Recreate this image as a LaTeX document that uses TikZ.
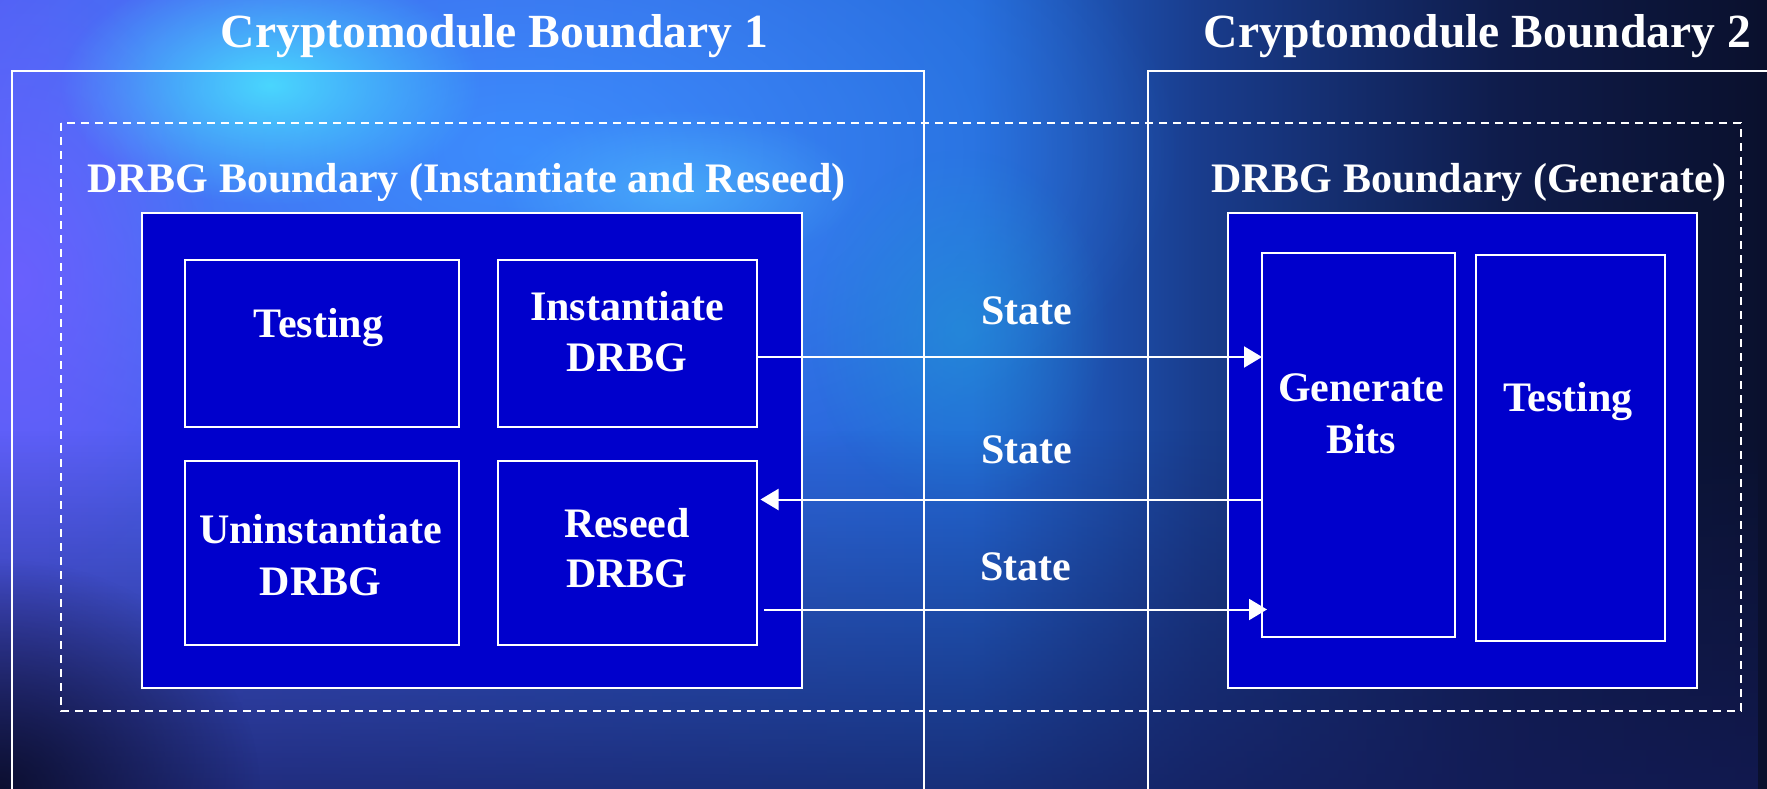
\documentclass[tikz,border=0pt]{standalone}
\usepackage{fontspec}
\setmainfont{Liberation Serif}
\usetikzlibrary{arrows.meta,fadings}

\definecolor{boxblue}{RGB}{0,0,204}
\definecolor{bg0}{RGB}{85,95,245}
\definecolor{bg1}{RGB}{35,105,215}
\definecolor{bg2}{RGB}{25,60,140}
\definecolor{bg3}{RGB}{15,28,75}
\definecolor{bg4}{RGB}{10,16,45}
\definecolor{glowBlue}{RGB}{60,145,255}
\definecolor{glowCyan}{RGB}{75,230,255}
\definecolor{glowCyanB}{RGB}{85,205,255}
\definecolor{glowTeal}{RGB}{35,150,215}
\definecolor{glowPurple}{RGB}{110,95,255}
\definecolor{bottomDark}{RGB}{20,28,90}
\definecolor{cornerDark}{RGB}{8,10,35}

\pgfdeclarehorizontalshading{bgh}{100bp}{color(0bp)=(bg0); color(25bp)=(bg0); color(52.5bp)=(bg1); color(59bp)=(bg2); color(67.5bp)=(bg3); color(75bp)=(bg4); color(100bp)=(bg4)}
\tikzfading[name=glow, inner color=transparent!0, outer color=transparent!100]
\tikzfading[name=fadedown, top color=transparent!100, bottom color=transparent!0]

\begin{document}
\begin{tikzpicture}[x=1pt,y=-1pt,
  boundary/.style={draw=white, line width=2pt},
  dashbox/.style={draw=white, line width=2pt, dash pattern=on 8pt off 6pt},
  bluebox/.style={draw=white, line width=2pt, fill=boxblue, inner sep=0pt, outer sep=0pt, anchor=north west},
  innerbox/.style={draw=white, line width=2.2pt, inner sep=0pt, outer sep=0pt, anchor=north west},
  txt/.style={text=white, font=\fontsize{42}{52}\selectfont\bfseries, inner sep=0pt, anchor=base},
  titletxt/.style={text=white, font=\fontsize{47.6}{57}\selectfont\bfseries, inner sep=0pt, anchor=base},
  arr/.style={draw=white, line width=2pt, -{Triangle[length=18pt,width=21pt]}}
]
\useasboundingbox (0,0) rectangle (1767,789);
% background
\shade[shading=bgh] (0,0) rectangle (1767,789);
\fill[glowBlue, path fading=glow, fill opacity=0.9] (520,150) ellipse [x radius=660, y radius=350];
\fill[glowPurple, path fading=glow, fill opacity=0.85] (20,280) ellipse [x radius=200, y radius=300];
\fill[glowTeal, path fading=glow, fill opacity=0.6] (960,330) ellipse [x radius=150, y radius=180];
\fill[glowCyanB, path fading=glow, fill opacity=0.5] (680,190) ellipse [x radius=180, y radius=80];
\fill[glowCyan, path fading=glow, fill opacity=0.85] (270,85) ellipse [x radius=210, y radius=120];
\fill[bottomDark, path fading=fadedown, fill opacity=0.75] (0,430) rectangle (1767,789);
\fill[cornerDark, path fading=glow, fill opacity=0.85] (0,789) ellipse [x radius=260, y radius=230];

% cryptomodule boundaries
\draw[boundary] (12,800) -- (12,71) -- (924,71) -- (924,800);
\draw[boundary] (1148,800) -- (1148,71) -- (1780,71);
\node[titletxt] (cb1) at (494.5,48) {Cryptomodule Boundary 1};
\node[titletxt] (cb2) at (1477.5,48) {Cryptomodule Boundary 2};

% DRBG boundary
\draw[dashbox] (61,123) rectangle (1741,711);
\node[txt] (lblL) at (466.5,192.5) {DRBG Boundary (Instantiate and Reseed)};
\node[txt] (lblR) at (1469,192.5) {DRBG Boundary (Generate)};

% blue boxes
\node[bluebox, minimum width=660pt, minimum height=475pt] (L) at (142,213) {};
\node[bluebox, minimum width=469pt, minimum height=475pt] (R) at (1228,213) {};

\node[innerbox, minimum width=274pt, minimum height=167pt] (test1) at (185,260) {};
\node[innerbox, minimum width=259pt, minimum height=167pt] (inst) at (498,260) {};
\node[innerbox, minimum width=274pt, minimum height=184pt] (uninst) at (185,461) {};
\node[innerbox, minimum width=259pt, minimum height=184pt] (reseed) at (498,461) {};
\node[innerbox, minimum width=193pt, minimum height=384pt] (gen) at (1262,253) {};
\node[innerbox, minimum width=189pt, minimum height=386pt] (test2) at (1476,255) {};

% box texts
\node[txt] (t1) at (318.5,337.7) {Testing};
\node[txt] (i1) at (627,320) {Instantiate};
\node[txt] (i2) at (627,371.7) {DRBG};
\node[txt] (u1) at (320.5,543) {Uninstantiate};
\node[txt] (u2) at (320.5,595) {DRBG};
\node[txt] (r1) at (627,537.7) {Reseed};
\node[txt] (r2) at (627,587.7) {DRBG};
\node[txt] (g1) at (1361,401.7) {Generate};
\node[txt] (g2) at (1361,453) {Bits};
\node[txt] (t2) at (1568,411.7) {Testing};

% arrows
\coordinate (y1) at (0,357);
\coordinate (y2) at (0,499.5);
\coordinate (y3) at (0,609.5);
\draw[arr] (inst.east |- y1) -- (gen.west |- y1);
\draw[arr, shorten >=3.5pt] (gen.west |- y2) -- (reseed.east |- y2);
\draw[arr, shorten <=7pt, shorten >=-5pt] (reseed.east |- y3) -- (gen.west |- y3);

\node[txt] (s1) at (1027,324) {State};
\node[txt] (s2) at (1027,463) {State};
\node[txt] (s3) at (1026,580) {State};
\end{tikzpicture}
\end{document}
